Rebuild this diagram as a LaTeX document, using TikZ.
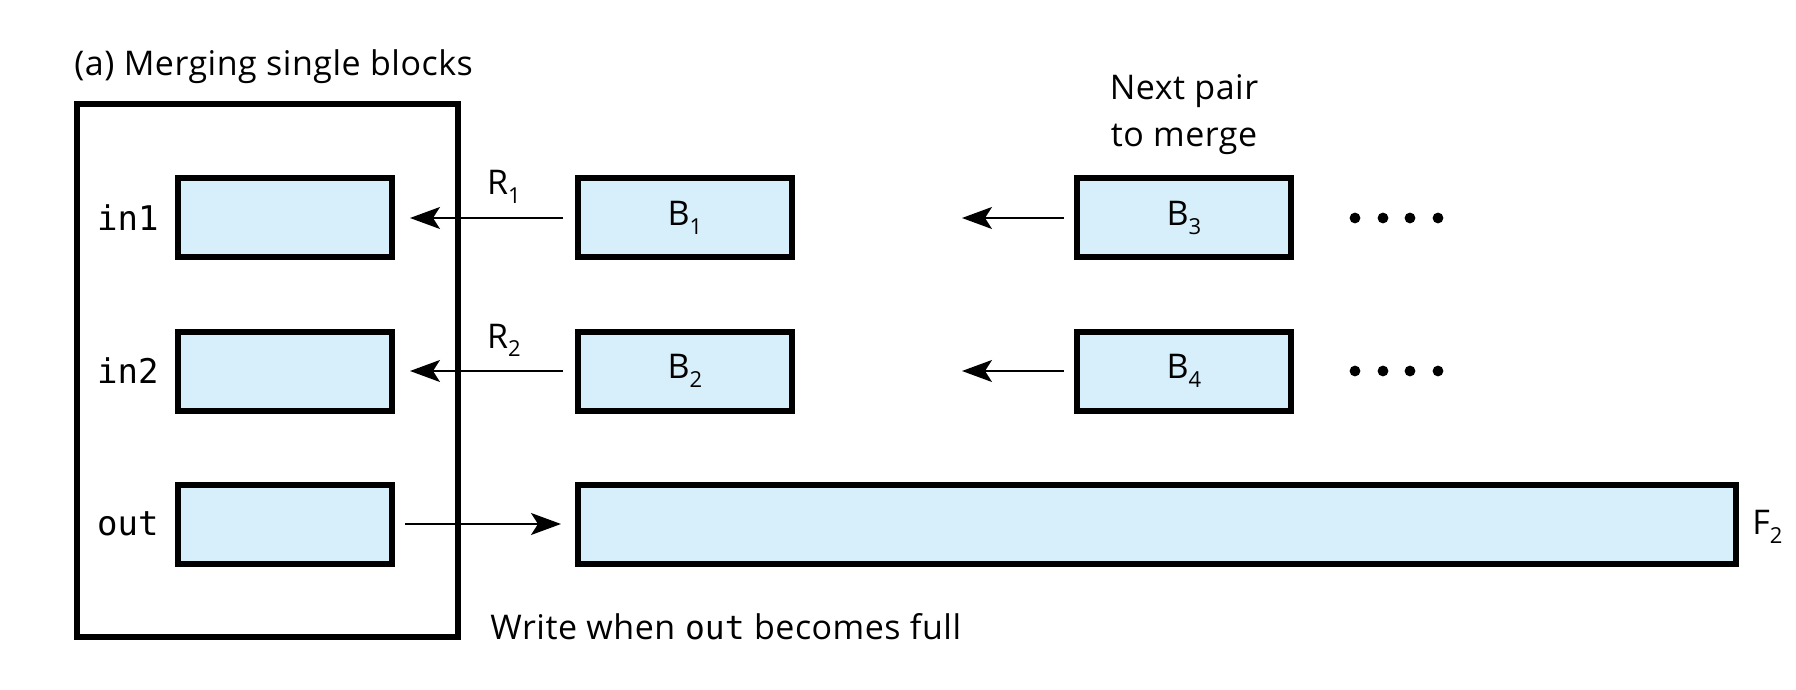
\documentclass[tikz,border=0pt]{standalone}
\usepackage{fontspec}
\setmainfont{Open Sans}[LetterSpace=1.5]
\setmonofont{DejaVu Sans Mono}
\usetikzlibrary{arrows.meta}
\definecolor{blockfill}{RGB}{214,239,250}
% lowered index figure as used for run and file names
\newcommand{\idx}[1]{\raisebox{-4.5pt}{\fontsize{11}{11}\selectfont #1}}

\begin{document}
\begin{tikzpicture}[x=0.5pt, y=-0.5pt,
  every node/.style={font=\fontsize{17}{23.5}\selectfont},
  blk/.style={draw=black, line width=3pt, fill=blockfill, inner sep=0pt,
    minimum width=107pt, minimum height=39.5pt},
  longblk/.style={blk, minimum width=579pt},
  frame/.style={draw=black, line width=2.75pt},
  arr/.style={-{Stealth[length=15pt, width=11pt, inset=3.5pt]}, line width=0.8pt},
  lbl/.style={inner sep=0pt},
  mono/.style={inner sep=0pt, font=\fontsize{17}{20}\ttfamily},
  dot/.style={fill=black}
]
\useasboundingbox (0,0) rectangle (1796,690);

% title and memory frame
\node[lbl, anchor=base west] (title) at (74,76) {(a) Merging single blocks};
\draw[frame] (77,104) rectangle (458,637);

% buffers in memory
\node[blk] (in1) at (285,218) {};
\node[blk] (in2) at (285,371) {};
\node[blk] (out) at (285,524) {};
\node[mono, anchor=east] (lin1) at ([xshift=-8pt]in1.west) {in1};
\node[mono, anchor=east] (lin2) at ([xshift=-8pt]in2.west) {in2};
\node[mono, anchor=east] (lout) at ([xshift=-8pt]out.west) {out};

% runs on disk
\node[blk] (b1) at (685,218) {B\idx{1}};
\node[blk] (b2) at (685,371) {B\idx{2}};
\node[blk] (b3) at (1184,218) {B\idx{3}};
\node[blk] (b4) at (1184,371) {B\idx{4}};
\node[longblk] (f2) at (1157,524) {};
\node[lbl, anchor=base west] (lf2) at ([xshift=6.5pt,yshift=-5pt]f2.east) {F\idx{2}};

\node[lbl, anchor=south, align=center] (next) at ([yshift=10pt]b3.north) {Next pair\\to merge};

% read arrows
\node[lbl, anchor=base] (r1) at (504,195) {R\idx{1}};
\node[lbl, anchor=base] (r2) at (504,348) {R\idx{2}};
\draw[arr, shorten <=6pt, shorten >=7.5pt] (b1.west) -- (in1.east);
\draw[arr, shorten <=6pt, shorten >=7.5pt] (b2.west) -- (in2.east);
\coordinate (m1) at (962,218);
\coordinate (m2) at (962,371);
\draw[arr, shorten <=5pt] (b3.west) -- (m1);
\draw[arr, shorten <=5pt] (b4.west) -- (m2);

% write arrow
\draw[arr, shorten <=5pt, shorten >=7pt] (out.east) -- (f2.west);
\node[lbl, anchor=base west] (wnote) at (490,639) {Write when \texttt{\fontsize{16.5}{20}\selectfont out} becomes full};

% remaining blocks
\foreach \x in {1355,1383,1410,1438} {
  \fill[dot] (\x,218) circle (2.7pt);
  \fill[dot] (\x,371) circle (2.7pt);
}
\end{tikzpicture}
\end{document}
